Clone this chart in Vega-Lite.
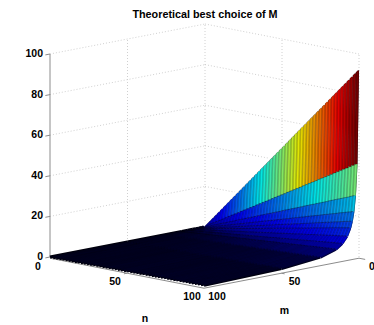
{"$schema":"https://vega.github.io/schema/vega-lite/v6.json","width":374,"height":325,"padding":0,"autosize":{"type":"none"},"background":"white","view":{"stroke":null},
"title":{"text":"Theoretical best choice of M","font":"Liberation Sans","fontSize":10.8,"fontWeight":"bold","color":"#000","anchor":"middle","frame":"group","dx":18,"offset":-20},
"config":{"axis":{"domain":false}},
"datasets":{
"box":[
{"kind":"grid","n":0,"m":100,"M":20,"n2":0,"m2":0,"M2":20},{"kind":"grid","n":0,"m":100,"M":40,"n2":0,"m2":0,"M2":40},{"kind":"grid","n":0,"m":100,"M":60,"n2":0,"m2":0,"M2":60},{"kind":"grid","n":0,"m":100,"M":80,"n2":0,"m2":0,"M2":80},{"kind":"grid","n":0,"m":100,"M":100,"n2":0,"m2":0,"M2":100},
{"kind":"grid","n":0,"m":0,"M":20,"n2":100,"m2":0,"M2":20},{"kind":"grid","n":0,"m":0,"M":40,"n2":100,"m2":0,"M2":40},{"kind":"grid","n":0,"m":0,"M":60,"n2":100,"m2":0,"M2":60},{"kind":"grid","n":0,"m":0,"M":80,"n2":100,"m2":0,"M2":80},{"kind":"grid","n":0,"m":0,"M":100,"n2":100,"m2":0,"M2":100},
{"kind":"grid","n":0,"m":50,"M":0,"n2":0,"m2":50,"M2":100},{"kind":"grid","n":0,"m":0,"M":0,"n2":0,"m2":0,"M2":100},{"kind":"grid","n":50,"m":0,"M":0,"n2":50,"m2":0,"M2":100},{"kind":"grid","n":100,"m":0,"M":0,"n2":100,"m2":0,"M2":100},
{"kind":"axis","n":0,"m":100,"M":0,"n2":0,"m2":100,"M2":100},{"kind":"axis","n":0,"m":100,"M":-0.6,"n2":100,"m2":100,"M2":-0.6},{"kind":"axis","n":100,"m":100,"M":-0.6,"n2":100,"m2":0,"M2":-0.6},
{"kind":"axis","n":0,"m":100,"M":0,"n2":0,"m2":103,"M2":0},{"kind":"axis","n":0,"m":100,"M":20,"n2":0,"m2":103,"M2":20},{"kind":"axis","n":0,"m":100,"M":40,"n2":0,"m2":103,"M2":40},{"kind":"axis","n":0,"m":100,"M":60,"n2":0,"m2":103,"M2":60},{"kind":"axis","n":0,"m":100,"M":80,"n2":0,"m2":103,"M2":80},{"kind":"axis","n":0,"m":100,"M":100,"n2":0,"m2":103,"M2":100},
{"kind":"axis","n":50,"m":100,"M":-0.6,"n2":50,"m2":102,"M2":-0.6},{"kind":"axis","n":100,"m":50,"M":-0.6,"n2":102,"m2":50,"M2":-0.6},{"kind":"axis","n":100,"m":0,"M":-0.6,"n2":104,"m2":0,"M2":-0.6},
{"kind":"mask","n":0,"m":1,"M":0.8,"n2":100,"m2":1,"M2":92.8}
],
"labels":[
{"kind":"z","n":0,"m":100,"M":0,"t":"0"},{"kind":"z","n":0,"m":100,"M":20,"t":"20"},{"kind":"z","n":0,"m":100,"M":40,"t":"40"},{"kind":"z","n":0,"m":100,"M":60,"t":"60"},{"kind":"z","n":0,"m":100,"M":80,"t":"80"},{"kind":"z","n":0,"m":100,"M":100,"t":"100"},
{"kind":"n","n":0,"m":100,"M":0,"t":"0"},{"kind":"n","n":50,"m":100,"M":0,"t":"50"},{"kind":"n","n":100,"m":100,"M":0,"t":"100"},
{"kind":"m","n":100,"m":100,"M":0,"t":"100"},{"kind":"m","n":100,"m":50,"M":0,"t":"50"},{"kind":"m","n":100,"m":0,"M":0,"t":"0"},
{"kind":"tn","n":50,"m":100,"M":0,"t":"n"},{"kind":"tm","n":100,"m":50,"M":0,"t":"m"}
],
"surface":[
{"n":0,"m":1,"M":0},{"n":2,"m":1,"M":1.8},{"n":4,"m":1,"M":3.7},{"n":6,"m":1,"M":5.5},{"n":8,"m":1,"M":7.4},{"n":10,"m":1,"M":9.2},{"n":12,"m":1,"M":11},{"n":14,"m":1,"M":12.9},{"n":16,"m":1,"M":14.7},{"n":18,"m":1,"M":16.6},{"n":20,"m":1,"M":18.4},{"n":22,"m":1,"M":20.2},{"n":24,"m":1,"M":22.1},{"n":26,"m":1,"M":23.9},{"n":28,"m":1,"M":25.8},{"n":30,"m":1,"M":27.6},{"n":32,"m":1,"M":29.4},{"n":34,"m":1,"M":31.3},{"n":36,"m":1,"M":33.1},{"n":38,"m":1,"M":35},{"n":40,"m":1,"M":36.8},{"n":42,"m":1,"M":38.6},{"n":44,"m":1,"M":40.5},{"n":46,"m":1,"M":42.3},{"n":48,"m":1,"M":44.2},{"n":50,"m":1,"M":46},{"n":52,"m":1,"M":47.8},{"n":54,"m":1,"M":49.7},{"n":56,"m":1,"M":51.5},{"n":58,"m":1,"M":53.4},{"n":60,"m":1,"M":55.2},{"n":62,"m":1,"M":57},{"n":64,"m":1,"M":58.9},{"n":66,"m":1,"M":60.7},{"n":68,"m":1,"M":62.6},{"n":70,"m":1,"M":64.4},{"n":72,"m":1,"M":66.2},{"n":74,"m":1,"M":68.1},{"n":76,"m":1,"M":69.9},{"n":78,"m":1,"M":71.8},{"n":80,"m":1,"M":73.6},{"n":82,"m":1,"M":75.4},{"n":84,"m":1,"M":77.3},{"n":86,"m":1,"M":79.1},{"n":88,"m":1,"M":81},{"n":90,"m":1,"M":82.8},{"n":92,"m":1,"M":84.6},{"n":94,"m":1,"M":86.5},{"n":96,"m":1,"M":88.3},{"n":98,"m":1,"M":90.2},{"n":100,"m":1,"M":92},
{"n":0,"m":2,"M":0},{"n":2,"m":2,"M":0.9},{"n":4,"m":2,"M":1.8},{"n":6,"m":2,"M":2.8},{"n":8,"m":2,"M":3.7},{"n":10,"m":2,"M":4.6},{"n":12,"m":2,"M":5.5},{"n":14,"m":2,"M":6.4},{"n":16,"m":2,"M":7.4},{"n":18,"m":2,"M":8.3},{"n":20,"m":2,"M":9.2},{"n":22,"m":2,"M":10.1},{"n":24,"m":2,"M":11},{"n":26,"m":2,"M":12},{"n":28,"m":2,"M":12.9},{"n":30,"m":2,"M":13.8},{"n":32,"m":2,"M":14.7},{"n":34,"m":2,"M":15.6},{"n":36,"m":2,"M":16.6},{"n":38,"m":2,"M":17.5},{"n":40,"m":2,"M":18.4},{"n":42,"m":2,"M":19.3},{"n":44,"m":2,"M":20.2},{"n":46,"m":2,"M":21.2},{"n":48,"m":2,"M":22.1},{"n":50,"m":2,"M":23},{"n":52,"m":2,"M":23.9},{"n":54,"m":2,"M":24.8},{"n":56,"m":2,"M":25.8},{"n":58,"m":2,"M":26.7},{"n":60,"m":2,"M":27.6},{"n":62,"m":2,"M":28.5},{"n":64,"m":2,"M":29.4},{"n":66,"m":2,"M":30.4},{"n":68,"m":2,"M":31.3},{"n":70,"m":2,"M":32.2},{"n":72,"m":2,"M":33.1},{"n":74,"m":2,"M":34},{"n":76,"m":2,"M":35},{"n":78,"m":2,"M":35.9},{"n":80,"m":2,"M":36.8},{"n":82,"m":2,"M":37.7},{"n":84,"m":2,"M":38.6},{"n":86,"m":2,"M":39.6},{"n":88,"m":2,"M":40.5},{"n":90,"m":2,"M":41.4},{"n":92,"m":2,"M":42.3},{"n":94,"m":2,"M":43.2},{"n":96,"m":2,"M":44.2},{"n":98,"m":2,"M":45.1},{"n":100,"m":2,"M":46},
{"n":0,"m":3,"M":0},{"n":2,"m":3,"M":0.6},{"n":4,"m":3,"M":1.2},{"n":6,"m":3,"M":1.8},{"n":8,"m":3,"M":2.5},{"n":10,"m":3,"M":3.1},{"n":12,"m":3,"M":3.7},{"n":14,"m":3,"M":4.3},{"n":16,"m":3,"M":4.9},{"n":18,"m":3,"M":5.5},{"n":20,"m":3,"M":6.1},{"n":22,"m":3,"M":6.7},{"n":24,"m":3,"M":7.4},{"n":26,"m":3,"M":8},{"n":28,"m":3,"M":8.6},{"n":30,"m":3,"M":9.2},{"n":32,"m":3,"M":9.8},{"n":34,"m":3,"M":10.4},{"n":36,"m":3,"M":11},{"n":38,"m":3,"M":11.7},{"n":40,"m":3,"M":12.3},{"n":42,"m":3,"M":12.9},{"n":44,"m":3,"M":13.5},{"n":46,"m":3,"M":14.1},{"n":48,"m":3,"M":14.7},{"n":50,"m":3,"M":15.3},{"n":52,"m":3,"M":15.9},{"n":54,"m":3,"M":16.6},{"n":56,"m":3,"M":17.2},{"n":58,"m":3,"M":17.8},{"n":60,"m":3,"M":18.4},{"n":62,"m":3,"M":19},{"n":64,"m":3,"M":19.6},{"n":66,"m":3,"M":20.2},{"n":68,"m":3,"M":20.9},{"n":70,"m":3,"M":21.5},{"n":72,"m":3,"M":22.1},{"n":74,"m":3,"M":22.7},{"n":76,"m":3,"M":23.3},{"n":78,"m":3,"M":23.9},{"n":80,"m":3,"M":24.5},{"n":82,"m":3,"M":25.1},{"n":84,"m":3,"M":25.8},{"n":86,"m":3,"M":26.4},{"n":88,"m":3,"M":27},{"n":90,"m":3,"M":27.6},{"n":92,"m":3,"M":28.2},{"n":94,"m":3,"M":28.8},{"n":96,"m":3,"M":29.4},{"n":98,"m":3,"M":30.1},{"n":100,"m":3,"M":30.7},
{"n":0,"m":4,"M":0},{"n":2,"m":4,"M":0.5},{"n":4,"m":4,"M":0.9},{"n":6,"m":4,"M":1.4},{"n":8,"m":4,"M":1.8},{"n":10,"m":4,"M":2.3},{"n":12,"m":4,"M":2.8},{"n":14,"m":4,"M":3.2},{"n":16,"m":4,"M":3.7},{"n":18,"m":4,"M":4.1},{"n":20,"m":4,"M":4.6},{"n":22,"m":4,"M":5.1},{"n":24,"m":4,"M":5.5},{"n":26,"m":4,"M":6},{"n":28,"m":4,"M":6.4},{"n":30,"m":4,"M":6.9},{"n":32,"m":4,"M":7.4},{"n":34,"m":4,"M":7.8},{"n":36,"m":4,"M":8.3},{"n":38,"m":4,"M":8.7},{"n":40,"m":4,"M":9.2},{"n":42,"m":4,"M":9.7},{"n":44,"m":4,"M":10.1},{"n":46,"m":4,"M":10.6},{"n":48,"m":4,"M":11},{"n":50,"m":4,"M":11.5},{"n":52,"m":4,"M":12},{"n":54,"m":4,"M":12.4},{"n":56,"m":4,"M":12.9},{"n":58,"m":4,"M":13.3},{"n":60,"m":4,"M":13.8},{"n":62,"m":4,"M":14.3},{"n":64,"m":4,"M":14.7},{"n":66,"m":4,"M":15.2},{"n":68,"m":4,"M":15.6},{"n":70,"m":4,"M":16.1},{"n":72,"m":4,"M":16.6},{"n":74,"m":4,"M":17},{"n":76,"m":4,"M":17.5},{"n":78,"m":4,"M":17.9},{"n":80,"m":4,"M":18.4},{"n":82,"m":4,"M":18.9},{"n":84,"m":4,"M":19.3},{"n":86,"m":4,"M":19.8},{"n":88,"m":4,"M":20.2},{"n":90,"m":4,"M":20.7},{"n":92,"m":4,"M":21.2},{"n":94,"m":4,"M":21.6},{"n":96,"m":4,"M":22.1},{"n":98,"m":4,"M":22.5},{"n":100,"m":4,"M":23},
{"n":0,"m":5,"M":0},{"n":2,"m":5,"M":0.4},{"n":4,"m":5,"M":0.7},{"n":6,"m":5,"M":1.1},{"n":8,"m":5,"M":1.5},{"n":10,"m":5,"M":1.8},{"n":12,"m":5,"M":2.2},{"n":14,"m":5,"M":2.6},{"n":16,"m":5,"M":2.9},{"n":18,"m":5,"M":3.3},{"n":20,"m":5,"M":3.7},{"n":22,"m":5,"M":4},{"n":24,"m":5,"M":4.4},{"n":26,"m":5,"M":4.8},{"n":28,"m":5,"M":5.2},{"n":30,"m":5,"M":5.5},{"n":32,"m":5,"M":5.9},{"n":34,"m":5,"M":6.3},{"n":36,"m":5,"M":6.6},{"n":38,"m":5,"M":7},{"n":40,"m":5,"M":7.4},{"n":42,"m":5,"M":7.7},{"n":44,"m":5,"M":8.1},{"n":46,"m":5,"M":8.5},{"n":48,"m":5,"M":8.8},{"n":50,"m":5,"M":9.2},{"n":52,"m":5,"M":9.6},{"n":54,"m":5,"M":9.9},{"n":56,"m":5,"M":10.3},{"n":58,"m":5,"M":10.7},{"n":60,"m":5,"M":11},{"n":62,"m":5,"M":11.4},{"n":64,"m":5,"M":11.8},{"n":66,"m":5,"M":12.1},{"n":68,"m":5,"M":12.5},{"n":70,"m":5,"M":12.9},{"n":72,"m":5,"M":13.2},{"n":74,"m":5,"M":13.6},{"n":76,"m":5,"M":14},{"n":78,"m":5,"M":14.4},{"n":80,"m":5,"M":14.7},{"n":82,"m":5,"M":15.1},{"n":84,"m":5,"M":15.5},{"n":86,"m":5,"M":15.8},{"n":88,"m":5,"M":16.2},{"n":90,"m":5,"M":16.6},{"n":92,"m":5,"M":16.9},{"n":94,"m":5,"M":17.3},{"n":96,"m":5,"M":17.7},{"n":98,"m":5,"M":18},{"n":100,"m":5,"M":18.4},
{"n":0,"m":6,"M":0},{"n":2,"m":6,"M":0.3},{"n":4,"m":6,"M":0.6},{"n":6,"m":6,"M":0.9},{"n":8,"m":6,"M":1.2},{"n":10,"m":6,"M":1.5},{"n":12,"m":6,"M":1.8},{"n":14,"m":6,"M":2.1},{"n":16,"m":6,"M":2.5},{"n":18,"m":6,"M":2.8},{"n":20,"m":6,"M":3.1},{"n":22,"m":6,"M":3.4},{"n":24,"m":6,"M":3.7},{"n":26,"m":6,"M":4},{"n":28,"m":6,"M":4.3},{"n":30,"m":6,"M":4.6},{"n":32,"m":6,"M":4.9},{"n":34,"m":6,"M":5.2},{"n":36,"m":6,"M":5.5},{"n":38,"m":6,"M":5.8},{"n":40,"m":6,"M":6.1},{"n":42,"m":6,"M":6.4},{"n":44,"m":6,"M":6.7},{"n":46,"m":6,"M":7.1},{"n":48,"m":6,"M":7.4},{"n":50,"m":6,"M":7.7},{"n":52,"m":6,"M":8},{"n":54,"m":6,"M":8.3},{"n":56,"m":6,"M":8.6},{"n":58,"m":6,"M":8.9},{"n":60,"m":6,"M":9.2},{"n":62,"m":6,"M":9.5},{"n":64,"m":6,"M":9.8},{"n":66,"m":6,"M":10.1},{"n":68,"m":6,"M":10.4},{"n":70,"m":6,"M":10.7},{"n":72,"m":6,"M":11},{"n":74,"m":6,"M":11.3},{"n":76,"m":6,"M":11.7},{"n":78,"m":6,"M":12},{"n":80,"m":6,"M":12.3},{"n":82,"m":6,"M":12.6},{"n":84,"m":6,"M":12.9},{"n":86,"m":6,"M":13.2},{"n":88,"m":6,"M":13.5},{"n":90,"m":6,"M":13.8},{"n":92,"m":6,"M":14.1},{"n":94,"m":6,"M":14.4},{"n":96,"m":6,"M":14.7},{"n":98,"m":6,"M":15},{"n":100,"m":6,"M":15.3},
{"n":0,"m":8,"M":0},{"n":2,"m":8,"M":0.2},{"n":4,"m":8,"M":0.5},{"n":6,"m":8,"M":0.7},{"n":8,"m":8,"M":0.9},{"n":10,"m":8,"M":1.2},{"n":12,"m":8,"M":1.4},{"n":14,"m":8,"M":1.6},{"n":16,"m":8,"M":1.8},{"n":18,"m":8,"M":2.1},{"n":20,"m":8,"M":2.3},{"n":22,"m":8,"M":2.5},{"n":24,"m":8,"M":2.8},{"n":26,"m":8,"M":3},{"n":28,"m":8,"M":3.2},{"n":30,"m":8,"M":3.5},{"n":32,"m":8,"M":3.7},{"n":34,"m":8,"M":3.9},{"n":36,"m":8,"M":4.1},{"n":38,"m":8,"M":4.4},{"n":40,"m":8,"M":4.6},{"n":42,"m":8,"M":4.8},{"n":44,"m":8,"M":5.1},{"n":46,"m":8,"M":5.3},{"n":48,"m":8,"M":5.5},{"n":50,"m":8,"M":5.8},{"n":52,"m":8,"M":6},{"n":54,"m":8,"M":6.2},{"n":56,"m":8,"M":6.4},{"n":58,"m":8,"M":6.7},{"n":60,"m":8,"M":6.9},{"n":62,"m":8,"M":7.1},{"n":64,"m":8,"M":7.4},{"n":66,"m":8,"M":7.6},{"n":68,"m":8,"M":7.8},{"n":70,"m":8,"M":8.1},{"n":72,"m":8,"M":8.3},{"n":74,"m":8,"M":8.5},{"n":76,"m":8,"M":8.7},{"n":78,"m":8,"M":9},{"n":80,"m":8,"M":9.2},{"n":82,"m":8,"M":9.4},{"n":84,"m":8,"M":9.7},{"n":86,"m":8,"M":9.9},{"n":88,"m":8,"M":10.1},{"n":90,"m":8,"M":10.4},{"n":92,"m":8,"M":10.6},{"n":94,"m":8,"M":10.8},{"n":96,"m":8,"M":11},{"n":98,"m":8,"M":11.3},{"n":100,"m":8,"M":11.5},
{"n":0,"m":11,"M":0},{"n":2,"m":11,"M":0.2},{"n":4,"m":11,"M":0.3},{"n":6,"m":11,"M":0.5},{"n":8,"m":11,"M":0.7},{"n":10,"m":11,"M":0.8},{"n":12,"m":11,"M":1},{"n":14,"m":11,"M":1.2},{"n":16,"m":11,"M":1.3},{"n":18,"m":11,"M":1.5},{"n":20,"m":11,"M":1.7},{"n":22,"m":11,"M":1.8},{"n":24,"m":11,"M":2},{"n":26,"m":11,"M":2.2},{"n":28,"m":11,"M":2.3},{"n":30,"m":11,"M":2.5},{"n":32,"m":11,"M":2.7},{"n":34,"m":11,"M":2.8},{"n":36,"m":11,"M":3},{"n":38,"m":11,"M":3.2},{"n":40,"m":11,"M":3.3},{"n":42,"m":11,"M":3.5},{"n":44,"m":11,"M":3.7},{"n":46,"m":11,"M":3.8},{"n":48,"m":11,"M":4},{"n":50,"m":11,"M":4.2},{"n":52,"m":11,"M":4.3},{"n":54,"m":11,"M":4.5},{"n":56,"m":11,"M":4.7},{"n":58,"m":11,"M":4.9},{"n":60,"m":11,"M":5},{"n":62,"m":11,"M":5.2},{"n":64,"m":11,"M":5.4},{"n":66,"m":11,"M":5.5},{"n":68,"m":11,"M":5.7},{"n":70,"m":11,"M":5.9},{"n":72,"m":11,"M":6},{"n":74,"m":11,"M":6.2},{"n":76,"m":11,"M":6.4},{"n":78,"m":11,"M":6.5},{"n":80,"m":11,"M":6.7},{"n":82,"m":11,"M":6.9},{"n":84,"m":11,"M":7},{"n":86,"m":11,"M":7.2},{"n":88,"m":11,"M":7.4},{"n":90,"m":11,"M":7.5},{"n":92,"m":11,"M":7.7},{"n":94,"m":11,"M":7.9},{"n":96,"m":11,"M":8},{"n":98,"m":11,"M":8.2},{"n":100,"m":11,"M":8.4},
{"n":0,"m":15,"M":0},{"n":2,"m":15,"M":0.1},{"n":4,"m":15,"M":0.2},{"n":6,"m":15,"M":0.4},{"n":8,"m":15,"M":0.5},{"n":10,"m":15,"M":0.6},{"n":12,"m":15,"M":0.7},{"n":14,"m":15,"M":0.9},{"n":16,"m":15,"M":1},{"n":18,"m":15,"M":1.1},{"n":20,"m":15,"M":1.2},{"n":22,"m":15,"M":1.3},{"n":24,"m":15,"M":1.5},{"n":26,"m":15,"M":1.6},{"n":28,"m":15,"M":1.7},{"n":30,"m":15,"M":1.8},{"n":32,"m":15,"M":2},{"n":34,"m":15,"M":2.1},{"n":36,"m":15,"M":2.2},{"n":38,"m":15,"M":2.3},{"n":40,"m":15,"M":2.5},{"n":42,"m":15,"M":2.6},{"n":44,"m":15,"M":2.7},{"n":46,"m":15,"M":2.8},{"n":48,"m":15,"M":2.9},{"n":50,"m":15,"M":3.1},{"n":52,"m":15,"M":3.2},{"n":54,"m":15,"M":3.3},{"n":56,"m":15,"M":3.4},{"n":58,"m":15,"M":3.6},{"n":60,"m":15,"M":3.7},{"n":62,"m":15,"M":3.8},{"n":64,"m":15,"M":3.9},{"n":66,"m":15,"M":4},{"n":68,"m":15,"M":4.2},{"n":70,"m":15,"M":4.3},{"n":72,"m":15,"M":4.4},{"n":74,"m":15,"M":4.5},{"n":76,"m":15,"M":4.7},{"n":78,"m":15,"M":4.8},{"n":80,"m":15,"M":4.9},{"n":82,"m":15,"M":5},{"n":84,"m":15,"M":5.2},{"n":86,"m":15,"M":5.3},{"n":88,"m":15,"M":5.4},{"n":90,"m":15,"M":5.5},{"n":92,"m":15,"M":5.6},{"n":94,"m":15,"M":5.8},{"n":96,"m":15,"M":5.9},{"n":98,"m":15,"M":6},{"n":100,"m":15,"M":6.1},
{"n":0,"m":25,"M":0},{"n":2,"m":25,"M":0.1},{"n":4,"m":25,"M":0.1},{"n":6,"m":25,"M":0.2},{"n":8,"m":25,"M":0.3},{"n":10,"m":25,"M":0.4},{"n":12,"m":25,"M":0.4},{"n":14,"m":25,"M":0.5},{"n":16,"m":25,"M":0.6},{"n":18,"m":25,"M":0.7},{"n":20,"m":25,"M":0.7},{"n":22,"m":25,"M":0.8},{"n":24,"m":25,"M":0.9},{"n":26,"m":25,"M":1},{"n":28,"m":25,"M":1},{"n":30,"m":25,"M":1.1},{"n":32,"m":25,"M":1.2},{"n":34,"m":25,"M":1.3},{"n":36,"m":25,"M":1.3},{"n":38,"m":25,"M":1.4},{"n":40,"m":25,"M":1.5},{"n":42,"m":25,"M":1.5},{"n":44,"m":25,"M":1.6},{"n":46,"m":25,"M":1.7},{"n":48,"m":25,"M":1.8},{"n":50,"m":25,"M":1.8},{"n":52,"m":25,"M":1.9},{"n":54,"m":25,"M":2},{"n":56,"m":25,"M":2.1},{"n":58,"m":25,"M":2.1},{"n":60,"m":25,"M":2.2},{"n":62,"m":25,"M":2.3},{"n":64,"m":25,"M":2.4},{"n":66,"m":25,"M":2.4},{"n":68,"m":25,"M":2.5},{"n":70,"m":25,"M":2.6},{"n":72,"m":25,"M":2.6},{"n":74,"m":25,"M":2.7},{"n":76,"m":25,"M":2.8},{"n":78,"m":25,"M":2.9},{"n":80,"m":25,"M":2.9},{"n":82,"m":25,"M":3},{"n":84,"m":25,"M":3.1},{"n":86,"m":25,"M":3.2},{"n":88,"m":25,"M":3.2},{"n":90,"m":25,"M":3.3},{"n":92,"m":25,"M":3.4},{"n":94,"m":25,"M":3.5},{"n":96,"m":25,"M":3.5},{"n":98,"m":25,"M":3.6},{"n":100,"m":25,"M":3.7},
{"n":0,"m":50,"M":0},{"n":2,"m":50,"M":0},{"n":4,"m":50,"M":0.1},{"n":6,"m":50,"M":0.1},{"n":8,"m":50,"M":0.1},{"n":10,"m":50,"M":0.2},{"n":12,"m":50,"M":0.2},{"n":14,"m":50,"M":0.3},{"n":16,"m":50,"M":0.3},{"n":18,"m":50,"M":0.3},{"n":20,"m":50,"M":0.4},{"n":22,"m":50,"M":0.4},{"n":24,"m":50,"M":0.4},{"n":26,"m":50,"M":0.5},{"n":28,"m":50,"M":0.5},{"n":30,"m":50,"M":0.6},{"n":32,"m":50,"M":0.6},{"n":34,"m":50,"M":0.6},{"n":36,"m":50,"M":0.7},{"n":38,"m":50,"M":0.7},{"n":40,"m":50,"M":0.7},{"n":42,"m":50,"M":0.8},{"n":44,"m":50,"M":0.8},{"n":46,"m":50,"M":0.8},{"n":48,"m":50,"M":0.9},{"n":50,"m":50,"M":0.9},{"n":52,"m":50,"M":1},{"n":54,"m":50,"M":1},{"n":56,"m":50,"M":1},{"n":58,"m":50,"M":1.1},{"n":60,"m":50,"M":1.1},{"n":62,"m":50,"M":1.1},{"n":64,"m":50,"M":1.2},{"n":66,"m":50,"M":1.2},{"n":68,"m":50,"M":1.3},{"n":70,"m":50,"M":1.3},{"n":72,"m":50,"M":1.3},{"n":74,"m":50,"M":1.4},{"n":76,"m":50,"M":1.4},{"n":78,"m":50,"M":1.4},{"n":80,"m":50,"M":1.5},{"n":82,"m":50,"M":1.5},{"n":84,"m":50,"M":1.5},{"n":86,"m":50,"M":1.6},{"n":88,"m":50,"M":1.6},{"n":90,"m":50,"M":1.7},{"n":92,"m":50,"M":1.7},{"n":94,"m":50,"M":1.7},{"n":96,"m":50,"M":1.8},{"n":98,"m":50,"M":1.8},{"n":100,"m":50,"M":1.8},
{"n":0,"m":100,"M":0},{"n":2,"m":100,"M":0},{"n":4,"m":100,"M":0},{"n":6,"m":100,"M":0.1},{"n":8,"m":100,"M":0.1},{"n":10,"m":100,"M":0.1},{"n":12,"m":100,"M":0.1},{"n":14,"m":100,"M":0.1},{"n":16,"m":100,"M":0.1},{"n":18,"m":100,"M":0.2},{"n":20,"m":100,"M":0.2},{"n":22,"m":100,"M":0.2},{"n":24,"m":100,"M":0.2},{"n":26,"m":100,"M":0.2},{"n":28,"m":100,"M":0.3},{"n":30,"m":100,"M":0.3},{"n":32,"m":100,"M":0.3},{"n":34,"m":100,"M":0.3},{"n":36,"m":100,"M":0.3},{"n":38,"m":100,"M":0.3},{"n":40,"m":100,"M":0.4},{"n":42,"m":100,"M":0.4},{"n":44,"m":100,"M":0.4},{"n":46,"m":100,"M":0.4},{"n":48,"m":100,"M":0.4},{"n":50,"m":100,"M":0.5},{"n":52,"m":100,"M":0.5},{"n":54,"m":100,"M":0.5},{"n":56,"m":100,"M":0.5},{"n":58,"m":100,"M":0.5},{"n":60,"m":100,"M":0.6},{"n":62,"m":100,"M":0.6},{"n":64,"m":100,"M":0.6},{"n":66,"m":100,"M":0.6},{"n":68,"m":100,"M":0.6},{"n":70,"m":100,"M":0.6},{"n":72,"m":100,"M":0.7},{"n":74,"m":100,"M":0.7},{"n":76,"m":100,"M":0.7},{"n":78,"m":100,"M":0.7},{"n":80,"m":100,"M":0.7},{"n":82,"m":100,"M":0.8},{"n":84,"m":100,"M":0.8},{"n":86,"m":100,"M":0.8},{"n":88,"m":100,"M":0.8},{"n":90,"m":100,"M":0.8},{"n":92,"m":100,"M":0.8},{"n":94,"m":100,"M":0.9},{"n":96,"m":100,"M":0.9},{"n":98,"m":100,"M":0.9},{"n":100,"m":100,"M":0.9}
]},
"layer":[
{"data":{"name":"box"},
"transform":[{"calculate":"205+1.54*datum.n-1.55*datum.m","as":"px"},{"calculate":"227+0.3*datum.n+0.3*datum.m-2.03*datum.M","as":"py"},{"calculate":"205+1.54*datum.n2-1.55*datum.m2","as":"px2"},{"calculate":"227+0.3*datum.n2+0.3*datum.m2-2.03*datum.M2","as":"py2"}],
"encoding":{"x":{"field":"px","type":"quantitative","scale":{"domain":[0,374],"range":[0,374]},"axis":null},"x2":{"field":"px2"},"y":{"field":"py","type":"quantitative","scale":{"domain":[0,325],"range":[0,325]},"axis":null},"y2":{"field":"py2"}},
"layer":[
{"transform":[{"filter":"datum.kind=='grid'"}],"mark":{"type":"rule","stroke":"#c4c4c4","strokeWidth":0.8,"strokeDash":[1,2]}},
{"transform":[{"filter":"datum.kind=='axis'"}],"mark":{"type":"rule","stroke":"#8c8c8c","strokeWidth":1}}
]},
{"data":{"name":"surface"},
"transform":[
{"window":[{"op":"lead","field":"M","as":"M2"},{"op":"lead","field":"m","as":"m2"}],"sort":[{"field":"m","order":"ascending"}],"groupby":["n"]},
{"filter":"isValid(datum.m2)"},
{"calculate":"205+1.54*datum.n-1.55*datum.m","as":"px"},{"calculate":"227+0.3*datum.n+0.3*datum.m-2.03*datum.M","as":"py"},{"calculate":"205+1.54*datum.n-1.55*datum.m2","as":"px2"},{"calculate":"227+0.3*datum.n+0.3*datum.m2-2.03*datum.M2","as":"py2"},
{"calculate":"pow(2.03*(datum.M-datum.M2)/(datum.m2-datum.m)+0.3,2.2)","as":"h"},{"calculate":"datum.h/(datum.h+1)","as":"op"}],
"encoding":{"x":{"field":"px","type":"quantitative","scale":{"domain":[0,374],"range":[0,374]},"axis":null},"y":{"field":"py","type":"quantitative","scale":{"domain":[0,325],"range":[0,325]},"axis":null}},
"layer":[
{"mark":{"type":"rule","stroke":"#000008","strokeWidth":3.2},"encoding":{"x2":{"field":"px2"},"y2":{"field":"py2"}}},
{"mark":{"type":"rule","strokeWidth":3.2},"encoding":{"x2":{"field":"px2"},"y2":{"field":"py2"},"color":{"field":"M","type":"quantitative","legend":null,"scale":{"domain":[0,11.5,34.5,57.5,80.5,92],"range":["#00008f","#0000ff","#00ffff","#ffff00","#ff0000","#800000"],"interpolate":"rgb"}},"opacity":{"field":"op","type":"quantitative","scale":{"domain":[0,1],"range":[0,0.68]},"legend":null}}},
{"mark":{"type":"rule","strokeWidth":1.5},"encoding":{"x2":{"field":"px2"},"y2":{"field":"py2"},"color":{"field":"M","type":"quantitative","legend":null,"scale":{"domain":[0,11.5,34.5,57.5,80.5,92],"range":["#00008f","#0000ff","#00ffff","#ffff00","#ff0000","#800000"],"interpolate":"rgb"}},"opacity":{"field":"op","type":"quantitative","scale":{"domain":[0,1],"range":[0,1]},"legend":null}}},
{"transform":[{"filter":"datum.m<=15"}],"mark":{"type":"line","stroke":"#000","strokeWidth":0.6,"opacity":0.55},"encoding":{"detail":{"field":"m"},"order":{"field":"n"}}}
]},
{"data":{"name":"box"},
"transform":[{"filter":"datum.kind=='mask'"},{"calculate":"205+1.54*datum.n-1.55*datum.m","as":"px"},{"calculate":"227+0.3*datum.n+0.3*datum.m-2.03*datum.M","as":"py"},{"calculate":"205+1.54*datum.n2-1.55*datum.m2","as":"px2"},{"calculate":"227+0.3*datum.n2+0.3*datum.m2-2.03*datum.M2","as":"py2"}],
"mark":{"type":"rule","stroke":"#ffffff","strokeWidth":2.4},
"encoding":{"x":{"field":"px","type":"quantitative","scale":{"domain":[0,374],"range":[0,374]},"axis":null},"x2":{"field":"px2"},"y":{"field":"py","type":"quantitative","scale":{"domain":[0,325],"range":[0,325]},"axis":null},"y2":{"field":"py2"}}},
{"data":{"name":"labels"},
"transform":[{"calculate":"205+1.54*datum.n-1.55*datum.m","as":"px"},{"calculate":"227+0.3*datum.n+0.3*datum.m-2.03*datum.M","as":"py"}],
"encoding":{"x":{"field":"px","type":"quantitative","scale":{"domain":[0,374],"range":[0,374]},"axis":null},"y":{"field":"py","type":"quantitative","scale":{"domain":[0,325],"range":[0,325]},"axis":null},"text":{"field":"t"}},
"layer":[
{"transform":[{"filter":"datum.kind=='z'"}],"mark":{"type":"text","font":"Liberation Sans","fontSize":10.5,"fontWeight":"bold","color":"#000","align":"right","baseline":"middle","dx":-7}},
{"transform":[{"filter":"datum.kind=='n'"}],"mark":{"type":"text","font":"Liberation Sans","fontSize":10.5,"fontWeight":"bold","color":"#000","align":"center","baseline":"middle","dx":-12,"dy":10}},
{"transform":[{"filter":"datum.kind=='m'"}],"mark":{"type":"text","font":"Liberation Sans","fontSize":10.5,"fontWeight":"bold","color":"#000","align":"center","baseline":"middle","dx":13,"dy":9.5}},
{"transform":[{"filter":"datum.kind=='tn'"}],"mark":{"type":"text","font":"Liberation Sans","fontSize":10.5,"fontWeight":"bold","color":"#000","align":"center","baseline":"middle","dx":18,"dy":47}},
{"transform":[{"filter":"datum.kind=='tm'"}],"mark":{"type":"text","font":"Liberation Sans","fontSize":10.5,"fontWeight":"bold","color":"#000","align":"center","baseline":"middle","dx":3,"dy":39}}
]}
]}
